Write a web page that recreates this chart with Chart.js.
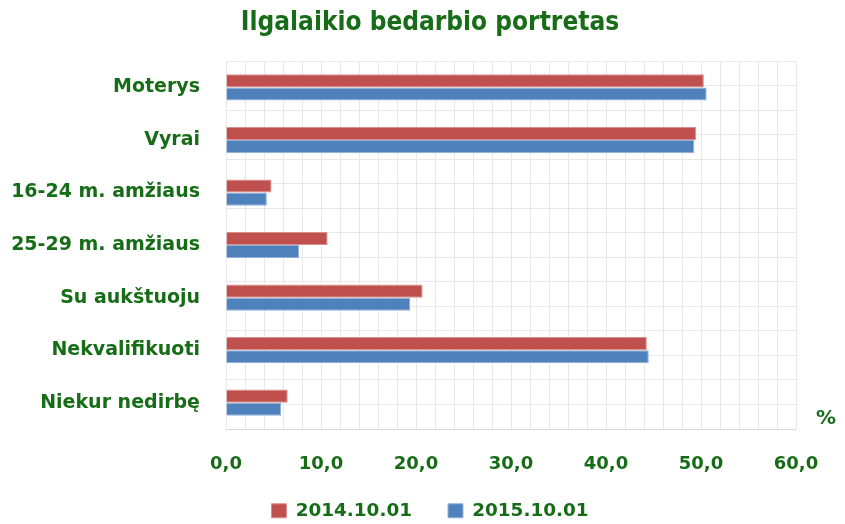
<!DOCTYPE html>
<html>
<head>
<meta charset="utf-8">
<script src="https://cdn.jsdelivr.net/npm/chart.js@4"></script>
<style>
  html, body { margin: 0; padding: 0; background: #ffffff; }
  #wrap { width: 845px; height: 524px; }
</style>
</head>
<body>
<div id="wrap"><canvas id="portretChart" width="845" height="524"></canvas></div>
<script>
// Data
const categories = ['Moterys', 'Vyrai', '16-24 m. amžiaus', '25-29 m. amžiaus', 'Su aukštuoju', 'Nekvalifikuoti', 'Niekur nedirbę'];
const seriesNames = ['2014.10.01', '2015.10.01'];
const values2014 = [50.3, 49.5, 4.8, 10.7, 20.7, 44.3, 6.5];
const values2015 = [50.6, 49.3, 4.3, 7.7, 19.4, 44.5, 5.8];
const xTicks = [0, 10, 20, 30, 40, 50, 60];

const green = '#176d17';
const gridColor = '#e8e8e8';

// Draws the "%" unit next to the x axis
const unitLabel = {
  id: 'unitLabel',
  afterDraw(chart) {
    const ctx = chart.ctx;
    const area = chart.chartArea;
    ctx.save();
    ctx.fillStyle = green;
    ctx.font = 'bold 20px "DejaVu Sans"';
    ctx.textAlign = 'center';
    ctx.textBaseline = 'middle';
    ctx.fillText('%', area.right + 30, area.bottom - 10);
    ctx.restore();
  }
};

new Chart(document.getElementById('portretChart'), {
  type: 'bar',
  data: {
    labels: categories,
    datasets: [{
      label: seriesNames[0],
      data: values2014,
      backgroundColor: '#c0504d',
      borderColor: '#d7908e',
      borderWidth: 1,
      categoryPercentage: 0.5,
      barPercentage: 1.0
    }, {
      label: seriesNames[1],
      data: values2015,
      backgroundColor: '#4f81bd',
      borderColor: '#93b1d8',
      borderWidth: 1,
      categoryPercentage: 0.5,
      barPercentage: 1.0
    }]
  },
  options: {
    indexAxis: 'y',
    responsive: false,
    animation: false,
    layout: {
      padding: { left: 10, right: -5, top: 0, bottom: -6 }
    },
    plugins: {
      title: {
        display: true,
        text: 'Ilgalaikio bedarbio portretas',
        color: green,
        font: { family: '"Liberation Sans Narrow", "DejaVu Sans Condensed", sans-serif', size: 26, weight: 'bold' },
        padding: { top: 8, bottom: 22 }
      },
      legend: {
        position: 'bottom',
        labels: {
          color: green,
          font: { family: '"DejaVu Sans"', size: 18.4, weight: 'bold' },
          boxWidth: 15,
          boxHeight: 14,
          padding: 4,
          // wider gap after the first entry, as in the original
          generateLabels: function(chart) {
            const items = Chart.defaults.plugins.legend.labels.generateLabels(chart);
            items[0].text = items[0].text + '     ';
            return items;
          }
        }
      },
      tooltip: { enabled: false }
    },
    scales: {
      x: {
        min: 0,
        max: 60,
        afterFit: function(scale) { scale.height = 68.6; },
        grid: { color: gridColor, lineWidth: 1, drawTicks: false },
        border: { color: '#d9d9d9' },
        ticks: {
          stepSize: 2,
          autoSkip: false,
          maxRotation: 0,
          padding: 25,
          color: green,
          font: { family: '"DejaVu Sans"', size: 18, weight: 'bold' },
          callback: function(value) {
            if (!xTicks.includes(value)) return '';
            return value.toFixed(1).replace('.', ',');
          }
        }
      },
      y: {
        grid: { display: false, drawTicks: false },
        border: { display: false },
        afterFit: function(scale) { scale.width = 216; },
        ticks: {
          padding: 26,
          color: green,
          font: { family: '"DejaVu Sans"', size: 19, weight: 'bold' }
        }
      },
      // half-category grid lines; also keeps room on the right for the unit
      yGrid: {
        type: 'linear',
        position: 'right',
        min: 0,
        max: categories.length * 2,
        reverse: true,
        afterFit: function(scale) { scale.width = 54; },
        grid: { color: gridColor, lineWidth: 1, drawTicks: false },
        border: { color: gridColor },
        ticks: { display: false, stepSize: 1 }
      }
    }
  },
  plugins: [unitLabel]
});
</script>
</body>
</html>
